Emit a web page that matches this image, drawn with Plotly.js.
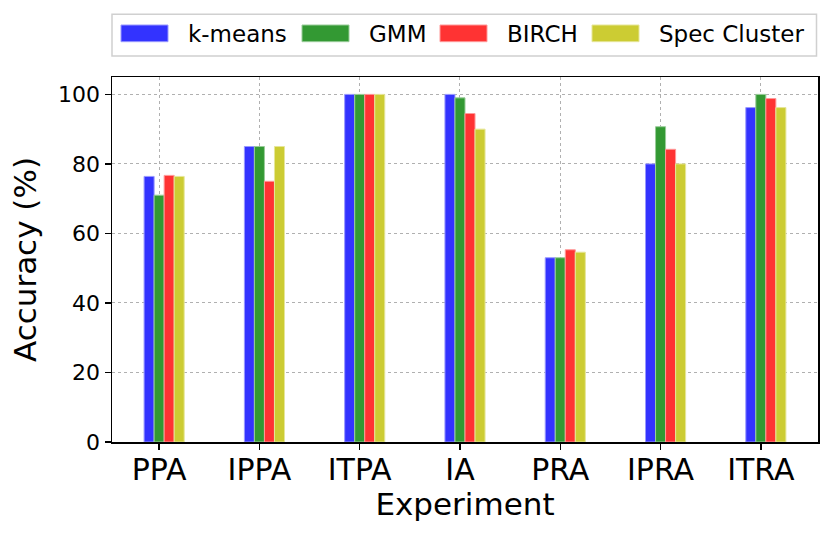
<!DOCTYPE html>
<html>
<head>
<meta charset="utf-8">
<script src="https://cdn.plot.ly/plotly-3.0.1.min.js"></script>
<style>html,body{margin:0;padding:0;background:#fff;}#chart{width:831px;height:538px;}</style>
</head>
<body>
<div id="chart"></div>
<script>
const categories = ["PPA", "IPPA", "ITPA", "IA", "PRA", "IPRA", "ITRA"];
const kmeans = [76.4, 85, 100, 100, 53, 80, 96.2];
const gmm = [71, 85, 100, 99, 53, 90.7, 100];
const birch = [76.7, 75, 100, 94.5, 55.3, 84.2, 98.8];
const specCluster = [76.4, 85, 100, 90, 54.6, 80, 96.2];
const seriesNames = ["k-means", "GMM", "BIRCH", "Spec Cluster"];
const yTicks = [0, 20, 40, 60, 80, 100];

const positions = categories.map((c, i) => i);
const seriesData = [kmeans, gmm, birch, specCluster];
const colors = ["#3333ff", "#339933", "#ff3333", "#cccc33"];
const edgeColors = ["#9999ff", "#99cc99", "#ff9999", "#e6e699"];
const offsets = [-0.15, -0.05, 0.05, 0.15];

const traces = seriesData.map((vals, k) => ({
  type: "bar",
  name: seriesNames[k],
  x: positions,
  y: vals,
  width: 0.1,
  offset: offsets[k],
  marker: { color: colors[k], line: { color: edgeColors[k], width: 1 } },
  showlegend: false,
  hoverinfo: "skip"
}));

// legend drawn as layout decoration (matplotlib-style expanded legend box)
const plotL = 112, plotW = 706, plotB = 442, plotH = 365;
const px = v => (v - plotL) / plotW;
const py = v => (plotB - v) / plotH;
const patchLeft = [121, 302, 440, 592];
const patchW = 47;
const textLeft = [188, 369, 507, 659];

const shapes = [{
  type: "rect", xref: "paper", yref: "paper",
  x0: px(112), x1: px(816.5), y0: py(56), y1: py(14.3),
  line: { color: "#d0d0d0", width: 1.5 },
  fillcolor: "rgba(255,255,255,0.8)", layer: "below"
}];
const annotations = [];
seriesNames.forEach((n, k) => {
  shapes.push({
    type: "rect", xref: "paper", yref: "paper",
    x0: px(patchLeft[k]), x1: px(patchLeft[k] + patchW),
    y0: py(41.7), y1: py(25),
    line: { color: edgeColors[k], width: 1 },
    fillcolor: colors[k]
  });
  annotations.push({
    xref: "paper", yref: "paper",
    x: px(textLeft[k] - 2), y: py(33.5),
    xanchor: "left", yanchor: "middle",
    text: n, showarrow: false,
    font: { family: "DejaVu Sans, sans-serif", size: 23, color: "#000" }
  });
});

const font = "DejaVu Sans, sans-serif";
const layout = {
  width: 831, height: 538,
  margin: { l: 112, r: 13, t: 77, b: 96 },
  paper_bgcolor: "#fff", plot_bgcolor: "#fff",
  barmode: "overlay",
  font: { family: font, color: "#000" },
  showlegend: false,
  shapes: shapes,
  annotations: annotations,
  xaxis: {
    range: [-0.47, 6.57],
    tickmode: "array", tickvals: positions, ticktext: categories,
    tickfont: { family: font, size: 30, color: "#000" },
    ticks: "outside", ticklen: 6, tickwidth: 1.5, tickcolor: "#000",
    ticklabelstandoff: -6,
    showline: true, linecolor: "#000", linewidth: 1.5, mirror: true,
    showgrid: true, gridcolor: "#b0b0b0", griddash: "dot", gridwidth: 1,
    zeroline: false,
    title: { text: "Experiment", font: { family: font, size: 31, color: "#000" }, standoff: 4 }
  },
  yaxis: {
    range: [0, 105],
    tickmode: "array", tickvals: yTicks, ticktext: yTicks.map(String),
    tickfont: { family: font, size: 22, color: "#000" },
    ticks: "outside", ticklen: 6, tickwidth: 1.5, tickcolor: "#000",
    showline: true, linecolor: "#000", linewidth: 1.5, mirror: true,
    showgrid: true, gridcolor: "#b0b0b0", griddash: "dot", gridwidth: 1,
    zeroline: false,
    title: { text: "Accuracy (%)", font: { family: font, size: 31, color: "#000" }, standoff: 12 }
  }
};

Plotly.newPlot("chart", traces, layout, { displayModeBar: false, staticPlot: true });
</script>
</body>
</html>
